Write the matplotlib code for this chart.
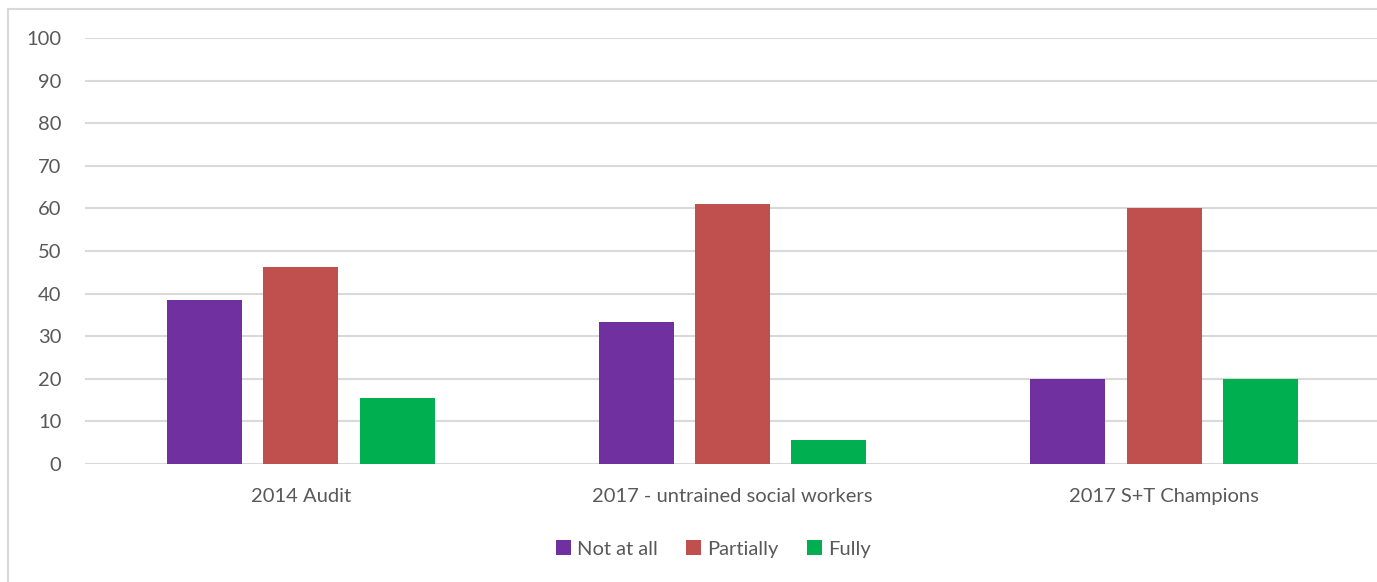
import numpy as np
import matplotlib.pyplot as plt
from matplotlib.patches import Rectangle

categories = ["2014 Audit", "2017 - untrained social workers", "2017 S+T Champions"]
series = ["Not at all", "Partially", "Fully"]
not_at_all = [38.5, 33.3, 20.0]
partially = [46.2, 61.1, 60.0]
fully = [15.4, 5.6, 20.0]
colors = ["#7030A0", "#C0504D", "#00B050"]

plt.rcParams['font.family'] = ['Lato', 'DejaVu Sans']
txt = "#595959"
grid = "#D9D9D9"

fig = plt.figure(figsize=(13.77, 5.82), dpi=100)
ax = fig.add_axes([85 / 1377, 1 - 464 / 582, 1295 / 1377, 426 / 582])

x = np.arange(len(categories))
w = 0.174
step = 0.223
for i, (vals, name) in enumerate(zip([not_at_all, partially, fully], series)):
    ax.bar(x + (i - 1) * step, vals, width=w, color=colors[i], label=name, zorder=3)

ax.set_xlim(-0.5, len(categories) - 0.5)
ax.set_ylim(0, 100)
ax.set_yticks(range(0, 101, 10))
ax.set_xticks(x)
ax.set_xticklabels(categories)
ax.yaxis.grid(True, color=grid, lw=1.5, zorder=0)
for s in ax.spines.values():
    s.set_visible(False)
ax.tick_params(axis='both', length=0, labelsize=14.5, colors=txt)
ax.tick_params(axis='y', pad=17)
ax.tick_params(axis='x', pad=17)

leg = fig.legend(loc='center', bbox_to_anchor=(713 / 1377, 1 - 549 / 582), ncol=3,
                 frameon=False, fontsize=14.5, handlelength=0.75, handleheight=0.75,
                 handletextpad=0.3, columnspacing=1.4)
for t in leg.get_texts():
    t.set_color(txt)

# outer chart border
fig.patches.append(Rectangle((8 / 1377, -0.1), 1.2, 1 - 9 / 582 + 0.1,
                             transform=fig.transFigure, fill=False,
                             edgecolor=grid, lw=1.5))

fig.savefig("out.png", dpi=100)
